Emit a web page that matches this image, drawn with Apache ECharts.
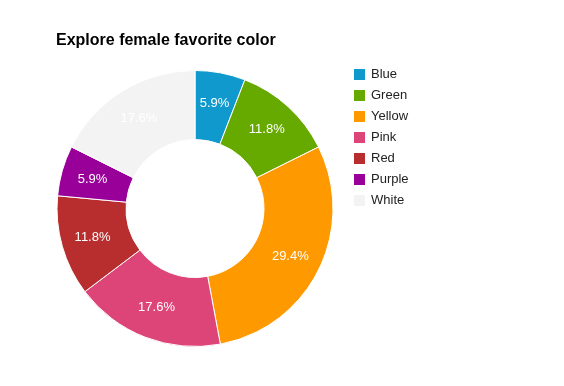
<!DOCTYPE html>
<html>
<head>
<meta charset="utf-8">
<script src="https://cdn.jsdelivr.net/npm/echarts@6/dist/echarts.min.js"></script>
<style>html,body{margin:0;padding:0;background:#fff;}#c{width:564px;height:386px;}</style>
</head>
<body>
<div id="c"></div>
<script>
const categories = ['Blue', 'Green', 'Yellow', 'Pink', 'Red', 'Purple', 'White'];
const counts = [1, 2, 5, 3, 2, 1, 3];
const colors = ['#0f99cc', '#66aa00', '#ff9900', '#dd4477', '#b82e2e', '#990099', '#f3f3f3'];
const titleText = 'Explore female favorite color';

const chart = echarts.init(document.getElementById('c'), null, {renderer: 'canvas'});
chart.setOption({
  animation: false,
  backgroundColor: '#ffffff',
  title: {
    text: titleText,
    left: 56, top: 33, padding: 0,
    textStyle: {fontFamily: 'Arial, "Liberation Sans"', fontSize: 16, fontWeight: 'bold', color: '#000'}
  },
  legend: {
    orient: 'vertical',
    left: 352, top: 67, padding: 0,
    icon: 'rect',
    itemWidth: 13, itemHeight: 13, itemGap: 6,
    textStyle: {fontFamily: 'Arial, "Liberation Sans"', fontSize: 13, color: '#222', padding: [0,0,0,0]},
    data: categories
  },
  series: [{
    type: 'pie',
    center: [195, 208.5],
    radius: [69, 138],
    startAngle: 90,
    clockwise: true,
    avoidLabelOverlap: false,
    itemStyle: {borderColor: '#fff', borderWidth: 1},
    label: {
      position: 'inside',
      formatter: function(p){ return p.percent.toFixed(1) + '%'; },
      color: '#fff',
      fontFamily: 'Arial, "Liberation Sans"',
      fontSize: 13
    },
    labelLine: {show: false},
    emphasis: {disabled: true},
    data: categories.map((n, i) => ({name: n, value: counts[i], itemStyle: {color: colors[i]}}))
  }]
});
</script>
</body>
</html>
